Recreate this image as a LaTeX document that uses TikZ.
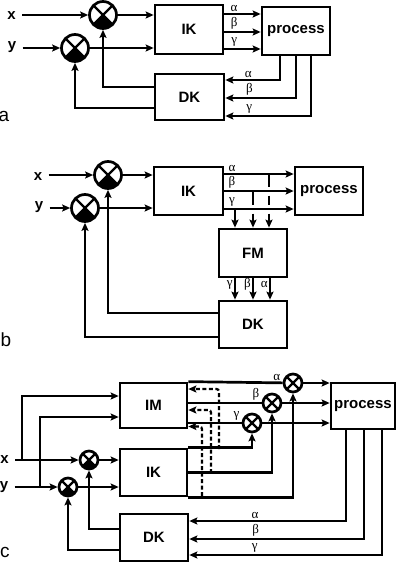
\documentclass[tikz,border=0pt]{standalone}
\usepackage{fontspec}
\setmainfont{Liberation Sans}
\newfontfamily\grk{Liberation Serif}
\usetikzlibrary{arrows.meta}

\tikzset{
  blk/.style={draw, inner sep=0pt, minimum width=68pt, minimum height=48pt,
    font=\fontsize{15}{15}\selectfont\bfseries},
  sumfill/.style={circle, draw, inner sep=0pt, minimum size=#1,
    path picture={
      \fill (path picture bounding box.center) -- (path picture bounding box.south west)
        -- (path picture bounding box.south east) -- cycle;
      \draw[line width=2.3pt] (path picture bounding box.north west) -- (path picture bounding box.south east)
        (path picture bounding box.north east) -- (path picture bounding box.south west);}},
  sumx/.style={circle, draw, inner sep=0pt, minimum size=#1,
    path picture={
      \draw[line width=2.3pt] (path picture bounding box.north west) -- (path picture bounding box.south east)
        (path picture bounding box.north east) -- (path picture bounding box.south west);}},
  inlbl/.style={font=\fontsize{15}{15}\selectfont\bfseries, inner xsep=5pt, inner ysep=1pt},
  panel/.style={font=\fontsize{19}{19}\selectfont, inner sep=0pt},
  glbl/.style={font=\fontsize{13}{13}\selectfont\grk, inner sep=1pt},
  dashline/.style={line width=2.2pt, dash pattern=on 4pt off 2.5pt, rounded corners=2.5pt},
}

\begin{document}
\begin{tikzpicture}[x=1pt, y=-1pt, line width=2.7pt,
    >={Stealth[length=8pt,width=7pt,inset=1.5pt]}]
  \useasboundingbox (0,0) rectangle (400,563);

  % (a) direct feedback of the angles
  \node[panel] (la) at (4,116) {a};
  \node[blk, minimum height=49pt] (ika) at (189,29.5) {IK};
  \node[blk] (pra) at (296,31) {process};
  \node[blk, minimum width=69pt, minimum height=46pt] (dka) at (189.5,97) {DK};
  \node[sumfill=27pt] (sxa) at (103,15) {};
  \node[sumfill=27pt] (sya) at (75,48) {};
  \node[inlbl] (xa) at (11.5,16) {x};
  \node[inlbl] (ya) at (12,47) {y};
  \draw[->] (xa.east |- sxa) -- (sxa);
  \draw[->] (ya.east |- sya) -- (sya);
  \draw[->] (sxa) -- (sxa -| ika.west);
  \draw[->] (sya) -- (sya -| ika.west);
  \draw[->] ([yshift=10pt]dka.west) -| (sxa);
  \draw[->] ([yshift=-11pt]dka.west) -| (sya);
  \foreach \dy/\g in {15.5/α, -2.5/β, -19.5/γ}
    \draw[->] ([yshift=\dy pt]ika.east) -- ([yshift=\dy pt]ika.east -| pra.west)
      node[glbl, pos=0.27, above] {\g};
  \foreach \dx/\dy/\q/\g in {-16/17/0.79/α, 0/-1/0.83/β, 15/-19/0.86/γ}
    \draw[->] ([xshift=\dx pt]pra.south) |- ([yshift=\dy pt]dka.east)
      node[glbl, pos=\q, above] {\g};

  % (b) angles through FM
  \node[panel] (lb) at (6,340) {b};
  \node[blk, minimum width=69pt] (ikb) at (188.5,191) {IK};
  \node[blk] (prb) at (329,191) {process};
  \node[blk] (fmb) at (253,253) {FM};
  \node[blk, minimum height=47pt] (dkb) at (253,324.5) {DK};
  \node[sumfill=27pt] (sxb) at (108,175) {};
  \node[sumfill=27pt] (syb) at (85,208) {};
  \node[inlbl] (xb) at (38,177) {x};
  \node[inlbl] (yb) at (39,207) {y};
  \draw[->] (xb.east |- sxb) -- (sxb);
  \draw[->] (yb.east |- syb) -- (syb);
  \draw[->] (sxb) -- (sxb -| ikb.west);
  \draw[->] (syb) -- (syb -| ikb.west);
  \draw[->] ([yshift=11.5pt]dkb.west) -| (sxb);
  \draw[->] ([yshift=-12.5pt]dkb.west) -| (syb);
  \foreach \dy/\g in {17/α, 0/β, -18/γ}
    \draw[->] ([yshift=\dy pt]ikb.east) -- ([yshift=\dy pt]ikb.east -| prb.west)
      node[glbl, pos=0.11, above] {\g};
  % branches down to FM, broken where they cross
  \coordinate (ba) at (269,174);
  \coordinate (bb) at (253,191);
  \coordinate (bg) at (235,209);
  \draw[->] (ba) -- ++(0,12.5) ++(0,9) -- ++(0,9) ++(0,9) -- (ba |- fmb.north);
  \draw[->] (bb) -- ++(0,13.5) ++(0,9) -- (bb |- fmb.north);
  \draw[->] (bg) -- (bg |- fmb.north);
  \foreach \dx/\g in {-18/γ, 0/β, 17/α}
    \draw[->] ([xshift=\dx pt]fmb.south) -- ([xshift=\dx pt]dkb.north)
      node[glbl, pos=0.3, left] {\g};

  % (c) with IM and correction of the angles
  \node[panel] (lc) at (5,552) {c};
  \node[blk, minimum width=67pt, minimum height=45pt] (imc) at (153.5,405.5) {IM};
  \node[blk, minimum width=67pt, minimum height=47pt] (ikc) at (153.5,472.5) {IK};
  \node[blk, minimum height=47pt] (dkc) at (154,537.5) {DK};
  \node[blk, minimum width=64pt, minimum height=46pt] (prc) at (363,406) {process};
  \node[sumfill=18pt] (sxc) at (89,460) {};
  \node[sumfill=18pt] (syc) at (68,487) {};
  \node[sumx=18pt] (sac) at (293,383) {};
  \node[sumx=18pt] (sbc) at (272,403) {};
  \node[sumx=18pt] (sgc) at (252,423) {};
  \node[inlbl] (xc) at (4.5,460) {x};
  \node[inlbl] (yc) at (4,487) {y};
  \coordinate (bx) at (22,460);
  \coordinate (by) at (40,487);
  \draw[->] (xc.east |- sxc) -- (sxc);
  \draw[->] (yc.east |- syc) -- (syc);
  \draw[->] (bx) |- ([yshift=9.5pt]imc.west);
  \draw[->] (by) |- ([yshift=-11.5pt]imc.west);
  \draw[->] (sxc) -- (sxc -| ikc.west);
  \draw[->] (syc) -- (syc -| ikc.west);
  \draw[->] ([yshift=8.5pt]dkc.west) -| (sxc);
  \draw[->] ([yshift=-12.5pt]dkc.west) -| (syc);
  \draw (imc.north east) -- (sac) node[glbl, pos=1, above left] {α};
  \draw ([yshift=2.5pt]imc.east) -- (sbc) node[glbl, pos=1, above left] {β};
  \draw ([yshift=-17.5pt]imc.east) -- (sgc) node[glbl, pos=1, above left] {γ};
  \draw[->] (ikc.north east) -| (sgc);
  \draw[->] (ikc.east) -| (sbc);
  \draw[->] (ikc.south east) -| (sac);
  \draw[->] (sac) -- (sac -| prc.west);
  \draw[->] (sbc) -- (sbc -| prc.west);
  \draw[->] (sgc) -- (sgc -| prc.west);
  \foreach \dx/\dy/\q/\g in {-17/16.5/0.79/α, 1/-1.5/0.81/β, 19/-17.5/0.83/γ}
    \draw[->] ([xshift=\dx pt]prc.south) |- ([yshift=\dy pt]dkc.east)
      node[glbl, pos=\q, above] {\g};
  % dashed paths back into IM
  \coordinate (da) at (219,449);
  \coordinate (db) at (211,473);
  \coordinate (dc) at (202,496);
  \draw[dashline, ->] (da) |- ([yshift=16.5pt]imc.east);
  \draw[dashline, ->] (db) |- ([yshift=-4.5pt]imc.east);
  \draw[dashline, ->] (dc) |- ([yshift=-21pt]imc.east);
\end{tikzpicture}
\end{document}
